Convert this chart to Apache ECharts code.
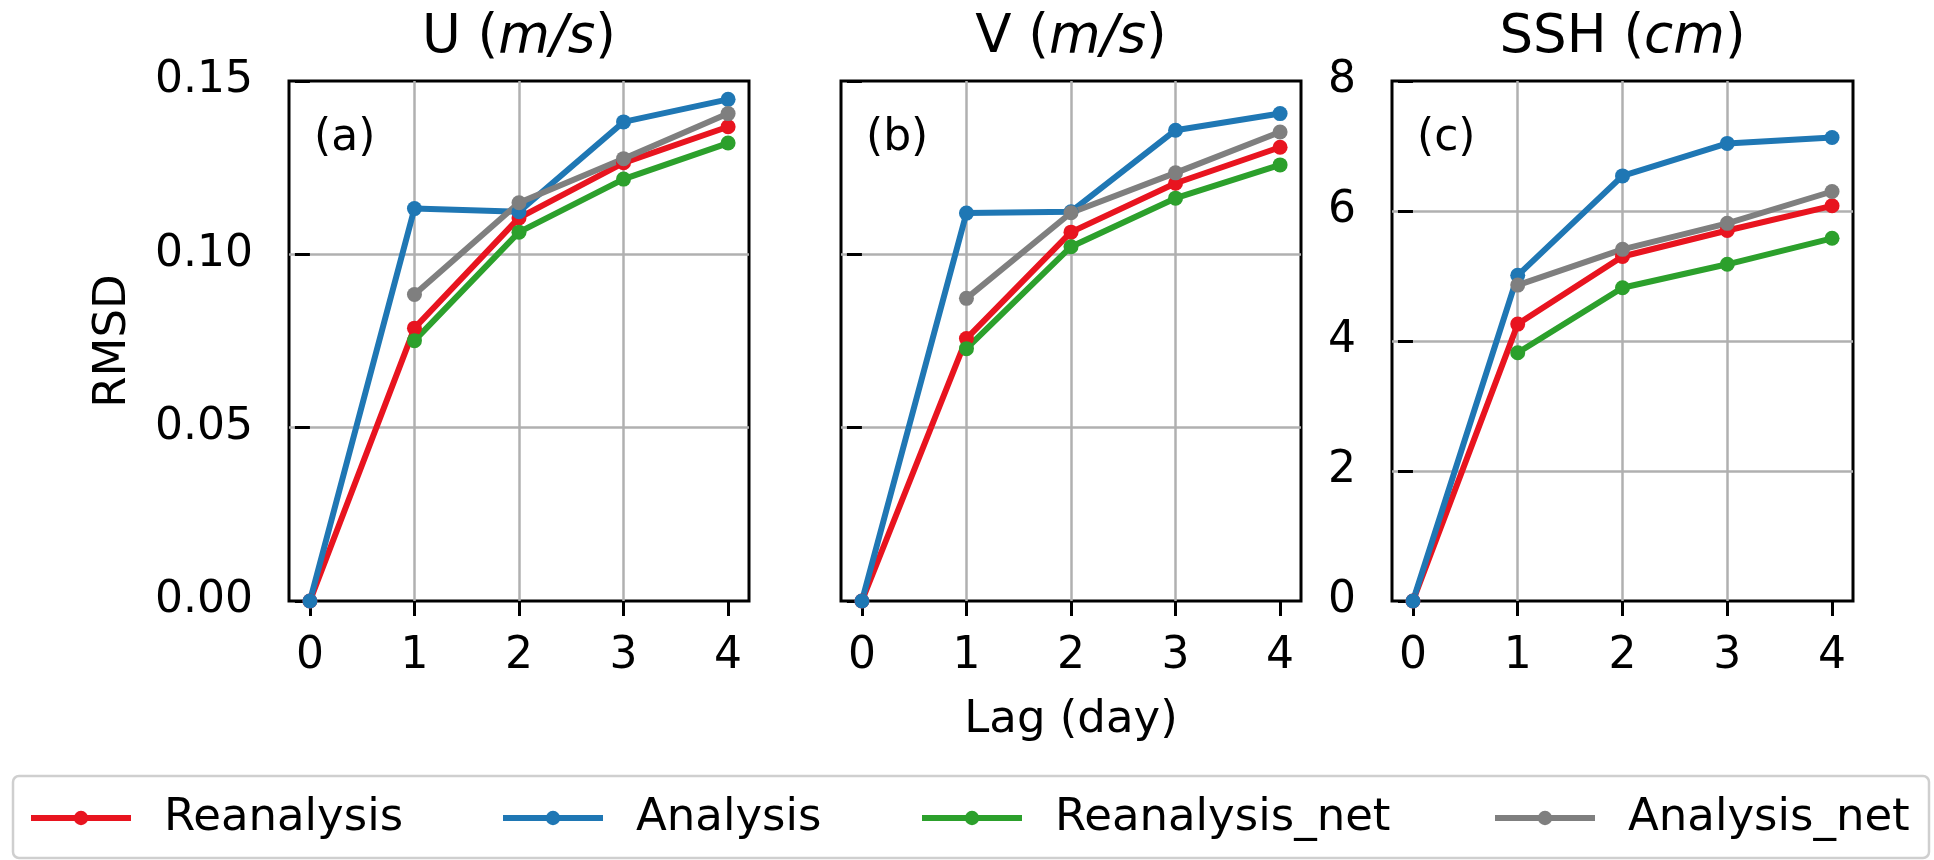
<!DOCTYPE html>
<html>
<head>
<meta charset="utf-8">
<style>
  html, body { margin: 0; padding: 0; background: #fff; }
  #main { width: 1934px; height: 860px; }
</style>
<script src="https://cdn.jsdelivr.net/npm/echarts@6/dist/echarts.min.js"></script>
</head>
<body>
<div id="main"></div>
<script>
// lag days
var lags = [0, 1, 2, 3, 4];
var lagsNet = [1, 2, 3, 4];

// (a) U
var uRe = [0, 0.0787, 0.1105, 0.1264, 0.1368];
var uAn = [0, 0.1132, 0.1123, 0.1382, 0.1447];
var uReNet = [0.0751, 0.1064, 0.1217, 0.1321];
var uAnNet = [0.0884, 0.1149, 0.1276, 0.1406];

// (b) V
var vRe = [0, 0.0757, 0.1064, 0.1205, 0.1309];
var vAn = [0, 0.1119, 0.1123, 0.1358, 0.1406];
var vReNet = [0.0728, 0.1022, 0.1162, 0.1258];
var vAnNet = [0.0873, 0.1120, 0.1235, 0.1353];

// (c) SSH
var sRe = [0, 4.26, 5.30, 5.70, 6.08];
var sAn = [0, 5.01, 6.54, 7.04, 7.13];
var sReNet = [3.82, 4.82, 5.18, 5.58];
var sAnNet = [4.86, 5.41, 5.81, 6.30];

var names = ['Reanalysis', 'Analysis', 'Reanalysis_net', 'Analysis_net'];
var colors = ['#e8141f', '#1f77b4', '#2ca02c', '#7f7f7f'];
var font = 'DejaVu Sans';

function pairs(xs, ys) {
	return xs.map(function(x, i) { return [x, ys[i]]; });
}

var panels = [
	{ left: 289, width: 460, title: 'U (', unit: 'm/s', tag: '(a)', max: 0.15, step: 0.05, labels: true, fmt: 2,
	  data: [pairs(lags, uRe), pairs(lags, uAn), pairs(lagsNet, uReNet), pairs(lagsNet, uAnNet)] },
	{ left: 841, width: 460, title: 'V (', unit: 'm/s', tag: '(b)', max: 0.15, step: 0.05, labels: false, fmt: 2,
	  data: [pairs(lags, vRe), pairs(lags, vAn), pairs(lagsNet, vReNet), pairs(lagsNet, vAnNet)] },
	{ left: 1392, width: 461, title: 'SSH (', unit: 'cm', tag: '(c)', max: 8, step: 2, labels: true, fmt: 0,
	  data: [pairs(lags, sRe), pairs(lags, sAn), pairs(lagsNet, sReNet), pairs(lagsNet, sAnNet)] }
];

var chart = echarts.init(document.getElementById('main'));

var grids = [], xAxes = [], yAxes = [], series = [], titles = [];
panels.forEach(function(p, k) {
	grids.push({
		left: p.left, top: 81, width: p.width, height: 520,
		show: true, borderColor: '#000', borderWidth: 3, backgroundColor: 'transparent'
	});
	xAxes.push({
		gridIndex: k, type: 'value', min: -0.2, max: 4.2,
		name: k === 1 ? 'Lag (day)' : '', nameLocation: 'middle', nameGap: 97,
		nameTextStyle: { fontFamily: font, fontSize: 45, color: '#000' },
		axisLine: { show: false },
		axisTick: { show: true, length: 15, customValues: lags, lineStyle: { color: '#000', width: 3 } },
		axisLabel: { customValues: lags, margin: 34, fontFamily: font, fontSize: 44, color: '#000' },
		splitLine: { show: true, showMinLine: false, showMaxLine: false, lineStyle: { color: '#b0b0b0', width: 2.5 } }
	});
	yAxes.push({
		gridIndex: k, type: 'value', min: 0, max: p.max, interval: p.step,
		name: k === 0 ? 'RMSD' : '', nameLocation: 'middle', nameGap: 153,
		nameTextStyle: { fontFamily: font, fontSize: 45, color: '#000' },
		axisLine: { show: false },
		axisTick: { show: true, length: 15, lineStyle: { color: '#000', width: 3 } },
		axisLabel: {
			show: p.labels, margin: 36, fontFamily: font, fontSize: 44, color: '#000',
			formatter: (function(f) { return function(v) { return v.toFixed(f); }; })(p.fmt)
		},
		splitLine: { show: true, showMinLine: false, showMaxLine: false, lineStyle: { color: '#b0b0b0', width: 2.5 } }
	});
	titles.push({
		text: '{n|' + p.title + '}{i|' + p.unit + '}{n|)}',
		left: p.left + p.width / 2, textAlign: 'center', top: 12, padding: 0,
		textStyle: {
			fontWeight: 'normal',
			rich: {
				n: { fontFamily: font, fontSize: 53, fontWeight: 'normal', color: '#000' },
				i: { fontFamily: font, fontSize: 53, fontWeight: 'normal', fontStyle: 'italic', color: '#000' }
			}
		}
	});
	titles.push({
		text: p.tag, left: p.left + 25, top: 117, padding: 0,
		textStyle: { fontFamily: font, fontSize: 44, fontWeight: 'normal', color: '#000' }
	});
	p.data.forEach(function(d, j) {
		series.push({
			name: names[j], type: 'line', xAxisIndex: k, yAxisIndex: k,
			data: d, symbol: 'circle', symbolSize: 15, clip: false,
			itemStyle: { color: colors[j] },
			lineStyle: { color: colors[j], width: 6 },
			emphasis: { disabled: true }
		});
	});
});

// legend: one component per entry so each sits where the reference has it
var legendX = [28, 500, 919, 1492];
var legends = names.map(function(n, j) {
	return {
		data: [n], left: legendX[j], top: 793, padding: 0,
		itemWidth: 100, itemHeight: 18,
		lineStyle: { width: 6 },
		textStyle: { fontFamily: font, fontSize: 45, color: '#000', lineHeight: 50, padding: [0, 0, 0, 28] }
	};
});

chart.setOption({
	animation: false,
	backgroundColor: '#fff',
	title: titles,
	legend: legends,
	grid: grids,
	xAxis: xAxes,
	yAxis: yAxes,
	series: series,
	graphic: [{
		type: 'rect', z: 0, silent: true,
		shape: { x: 13, y: 776, width: 1916, height: 82, r: 6 },
		style: { fill: '#fff', stroke: '#cfcfcf', lineWidth: 2.5 }
	}]
});

window.onresize = function() {
	chart.resize();
};
</script>
</body>
</html>
